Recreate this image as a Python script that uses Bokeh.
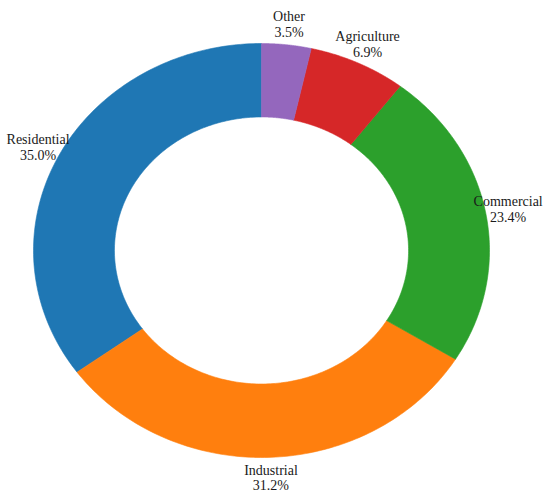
import numpy as np
from bokeh.plotting import figure
from bokeh.models import ColumnDataSource, Range1d
from bokeh.core.properties import value
from bokeh.embed import file_html
from bokeh.resources import INLINE

# Data (counter-clockwise from the top, as drawn)
categories = ["Residential", "Industrial", "Commercial", "Agriculture", "Other"]
shares = [35.0, 31.2, 23.4, 6.9, 3.5]
colors = ["#1f77b4", "#ff7f0e", "#2ca02c", "#d62728", "#9467bd"]

# geometry in unit-circle data space; the scales stretch it into the ellipse
INNER = 0.645
LABEL_R = 1.1
START = np.pi / 2

total = sum(shares)
fracs = np.array(shares) / total
ends = START + 2 * np.pi * np.cumsum(fracs)
starts = ends - 2 * np.pi * fracs

xs, ys = [], []
for a0, a1 in zip(starts, ends):
    t = np.linspace(a0, a1, 120)
    xs.append(list(np.cos(t)) + list(INNER * np.cos(t[::-1])))
    ys.append(list(np.sin(t)) + list(INNER * np.sin(t[::-1])))

mids = (starts + ends) / 2
labels = [f"{c}\n{s:.1f}%" for c, s in zip(categories, shares)]

src = ColumnDataSource(dict(xs=xs, ys=ys, color=colors))
lsrc = ColumnDataSource(dict(x=LABEL_R * np.cos(mids), y=LABEL_R * np.sin(mids), text=labels))

W, H = 550, 501
rx_px, ry_px = 228.0, 207.0
cx_px, cy_px = 261.0, 250.0  # centre in plot pixels

p = figure(width=W, height=H, output_backend="svg", toolbar_location=None,
           x_range=Range1d(-cx_px / rx_px, (W - cx_px) / rx_px),
           y_range=Range1d(-(H - cy_px) / ry_px, cy_px / ry_px),
           min_border=0, outline_line_color=None)
p.axis.visible = False
p.grid.visible = False
p.background_fill_color = "white"
p.border_fill_color = "white"

p.patches("xs", "ys", source=src, fill_color="color", line_color="color", line_width=0.6)
p.text("x", "y", text="text", source=lsrc, text_align="center", text_baseline="middle",
       text_font=value("Liberation Serif"), text_font_size="14px", text_color="#1a1a1a",
       text_line_height=1.05)

open("out.html", "w").write(file_html(p, INLINE))
